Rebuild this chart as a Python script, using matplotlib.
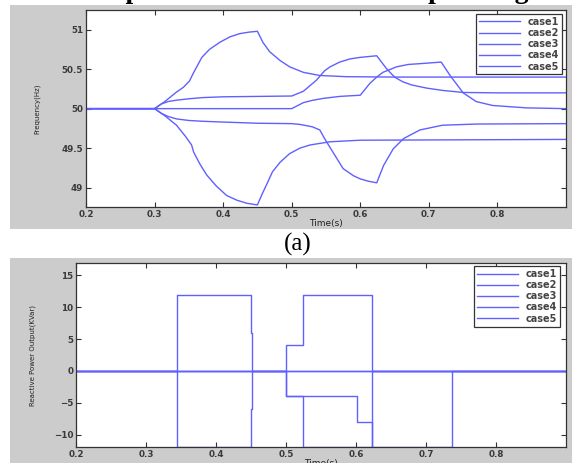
import matplotlib
matplotlib.use("Agg")
import matplotlib.pyplot as plt
from matplotlib.patches import Rectangle

# frequency curves
t1 = [0.2, 0.3, 0.315, 0.332, 0.342, 0.351, 0.356, 0.369, 0.38, 0.395, 0.41, 0.424, 0.438, 0.45,
      0.458, 0.468, 0.483, 0.497, 0.517, 0.541, 0.58, 0.65, 0.9]
f1 = [50, 50, 50.09, 50.21, 50.27, 50.35, 50.44, 50.65, 50.75, 50.84, 50.91, 50.95, 50.97, 50.98,
      50.84, 50.72, 50.61, 50.53, 50.46, 50.42, 50.405, 50.40, 50.40]

t2 = [0.2, 0.3, 0.315, 0.332, 0.345, 0.354, 0.357, 0.366, 0.376, 0.39, 0.405, 0.42, 0.435, 0.45,
      0.457, 0.463, 0.472, 0.483, 0.497, 0.512, 0.527, 0.556, 0.6, 0.9]
f2 = [50, 50, 49.91, 49.79, 49.65, 49.54, 49.45, 49.30, 49.16, 49.02, 48.90, 48.84, 48.80, 48.78,
      48.92, 49.03, 49.20, 49.32, 49.43, 49.50, 49.54, 49.58, 49.60, 49.61]

t3 = [0.2, 0.3, 0.31, 0.32, 0.33, 0.35, 0.37, 0.4, 0.45, 0.5, 0.517, 0.536, 0.548, 0.556, 0.57,
      0.585, 0.6, 0.624, 0.638, 0.65, 0.662, 0.675, 0.697, 0.721, 0.75, 0.8, 0.9]
f3 = [50, 50, 50.06, 50.09, 50.105, 50.125, 50.14, 50.15, 50.155, 50.16, 50.22, 50.36, 50.48, 50.53, 50.59,
      50.63, 50.65, 50.67, 50.51, 50.40, 50.34, 50.30, 50.26, 50.23, 50.205, 50.20, 50.20]

t4 = [0.2, 0.3, 0.31, 0.32, 0.332, 0.35, 0.37, 0.4, 0.45, 0.5, 0.512, 0.53, 0.541, 0.548, 0.56,
      0.575, 0.59, 0.6, 0.612, 0.624, 0.634, 0.648, 0.663, 0.687, 0.72, 0.77, 0.9]
f4 = [50, 50, 49.94, 49.90, 49.87, 49.85, 49.84, 49.83, 49.815, 49.81, 49.80, 49.77, 49.73, 49.62, 49.45,
      49.24, 49.15, 49.11, 49.08, 49.06, 49.28, 49.49, 49.62, 49.73, 49.79, 49.805, 49.81]

t5 = [0.2, 0.5, 0.517, 0.53, 0.546, 0.57, 0.6, 0.614, 0.624, 0.633, 0.653, 0.67, 0.687, 0.718,
      0.731, 0.75, 0.769, 0.793, 0.842, 0.9]
f5 = [50, 50, 50.076, 50.105, 50.13, 50.155, 50.17, 50.32, 50.40, 50.46, 50.53, 50.56, 50.57, 50.59,
      50.42, 50.20, 50.09, 50.04, 50.01, 50.0]

# reactive power steps
qt1 = [0.2, 0.344, 0.45, 0.452, 0.9]
q1 = [0, 12, 6, 0, 0]
qt2 = [0.2, 0.344, 0.45, 0.452, 0.9]
q2 = [0, -12, -6, 0, 0]
qt3 = [0.2, 0.5, 0.524, 0.623, 0.9]
q3 = [0, 4, 12, 0, 0]
qt4 = [0.2, 0.5, 0.524, 0.623, 0.9]
q4 = [0, -4, -12, 0, 0]
qt5 = [0.2, 0.5, 0.601, 0.623, 0.737, 0.9]
q5 = [0, -4, -8, -12, 0, 0]

labels = ['case1', 'case2', 'case3', 'case4', 'case5']
xticks = [0.2, 0.3, 0.4, 0.5, 0.6, 0.7, 0.8]
fticks = [49, 49.5, 50, 50.5, 51]
fticklabels = ['49', '49.5', '50', '50.5', '51']
qticks = [-10, -5, 0, 5, 10, 15]

blue = '#6060ff'
tickcol = '#3a3a3a'

fig = plt.figure(figsize=(5.72, 4.63), dpi=100)
fig.patches.append(Rectangle((0.0175, 0.5054), 0.99, 0.4836, transform=fig.transFigure,
                             facecolor='#cccccc', edgecolor='none', zorder=-5))
fig.patches.append(Rectangle((0.0175, 0.0), 0.99, 0.4428, transform=fig.transFigure,
                             facecolor='#cccccc', edgecolor='none', zorder=-5))

ax1 = fig.add_axes([0.1503, 0.5523, 0.8392, 0.4261])
ax2 = fig.add_axes([0.1329, 0.0339, 0.8566, 0.3987])


def style(ax):
    ax.set_xlim(0.2, 0.9)
    ax.set_xticks(xticks)
    ax.set_xticklabels([f'{v:.1f}' for v in xticks])
    ax.tick_params(direction='in', top=True, right=True, length=3.5, width=0.8,
                   labelsize=6.3, labelcolor=tickcol, color='#333333', pad=2)
    for lab in ax.get_xticklabels() + ax.get_yticklabels():
        lab.set_fontweight('bold')
    for s in ax.spines.values():
        s.set_color('#333333')
        s.set_linewidth(0.9)


for t, f, lab in zip([t1, t2, t3, t4, t5], [f1, f2, f3, f4, f5], labels):
    ax1.plot(t, f, color=blue, lw=1.0, label=lab)
ax1.set_ylim(48.75, 51.25)
ax1.set_yticks(fticks)
ax1.set_yticklabels(fticklabels)
style(ax1)
ax1.set_xlabel('Time(s)', fontsize=6.5, color='#222222', labelpad=0)
ax1.set_ylabel('Frequency(Hz)', fontsize=5, color='#222222', labelpad=15)
leg1 = ax1.legend(loc='upper right', bbox_to_anchor=(0.992, 0.98), borderaxespad=0,
                  fancybox=False, framealpha=1, edgecolor='#333333', fontsize=7,
                  handlelength=4.2, labelspacing=0.12, borderpad=0.3, handletextpad=0.8)
leg1.get_frame().set_linewidth(0.9)
for txt in leg1.get_texts():
    txt.set_color('#444444')
    txt.set_fontweight('bold')

for t, q, lab in zip([qt1, qt2, qt3, qt4, qt5], [q1, q2, q3, q4, q5], labels):
    ax2.step(t, q, where='post', color=blue, lw=1.0, label=lab)
ax2.set_ylim(-12, 17)
ax2.set_yticks(qticks)
style(ax2)
ax2.set_xlabel('Time(s)', fontsize=6.5, color='#222222', labelpad=0)
ax2.set_ylabel('Reactive Power Output(KVar)', fontsize=5, color='#222222', labelpad=13)
leg2 = ax2.legend(loc='upper right', bbox_to_anchor=(0.988, 0.982), borderaxespad=0,
                  fancybox=False, framealpha=1, edgecolor='#333333', fontsize=7,
                  handlelength=4.2, labelspacing=0.12, borderpad=0.3, handletextpad=0.8)
leg2.get_frame().set_linewidth(0.9)
for txt in leg2.get_texts():
    txt.set_color('#444444')
    txt.set_fontweight('bold')

fig.text(0.52, 0.473, '(a)', fontsize=18, family='Liberation Serif', ha='center', va='center')
# title of the page above, mostly cut off by the top edge
fig.text(0.145, 1.004, 'Proposed Method for the 5 Operating areas', fontsize=20,
         family='Liberation Serif', fontweight='bold', ha='left', va='baseline', zorder=5)

fig.savefig('out.png', dpi=100)
